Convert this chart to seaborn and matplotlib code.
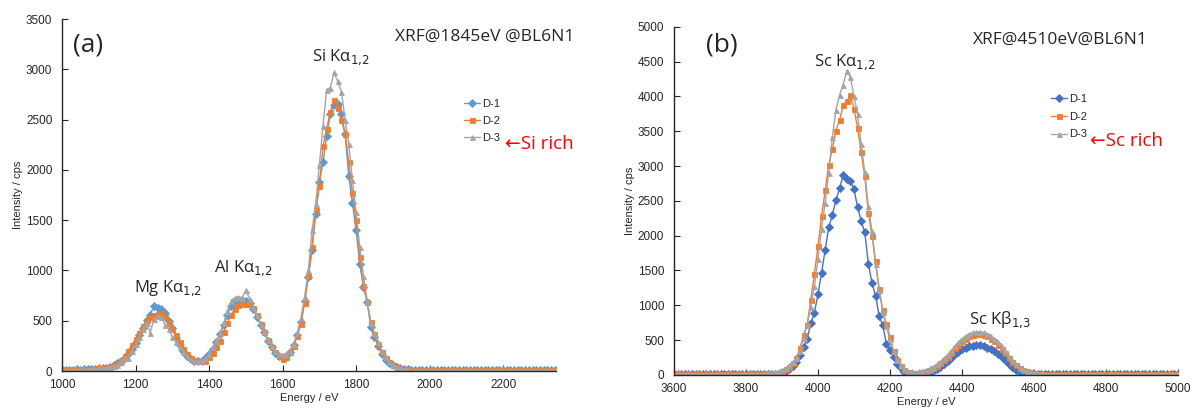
import numpy as np
import pandas as pd

import matplotlib
matplotlib.use('Agg')
import matplotlib.pyplot as plt
import seaborn as sns

# --- panel (a): XRF @ 1845 eV, 10 eV steps from 1000 to 2340 eV
energy_a = np.arange(1000, 2341, 10)
d1_a = [10, 12, 12, 14, 15, 14, 16, 18, 20, 22,
        25, 28, 32, 40, 55, 75, 100, 130, 170, 220,
        280, 360, 430, 510, 560, 650, 630, 620, 580, 500,
        430, 330, 260, 200, 150, 120, 100, 95, 100, 130,
        170, 220, 290, 370, 460, 560, 650, 700, 710, 705,
        700, 680, 620, 540, 460, 390, 300, 240, 180, 150,
        140, 150, 190, 260, 360, 490, 700, 940, 1200, 1560,
        1880, 2080, 2340, 2560, 2650, 2660, 2560, 2360, 1940, 1670,
        1400, 1060, 840, 690, 440, 340, 250, 170, 110, 80,
        55, 40, 28, 20, 15, 12, 10, 10, 10, 10,
        10, 9, 10, 10, 11, 10, 9, 10, 10, 11,
        10, 10, 9, 10, 10, 10, 11, 10, 9, 10,
        10, 10, 11, 10, 9, 10, 10, 10, 11, 10,
        9, 10, 10, 10, 10]
d2_a = [15, 15, 14, 15, 16, 18, 17, 20, 22, 25,
        28, 32, 38, 45, 60, 80, 110, 150, 200, 260,
        320, 380, 450, 510, 540, 560, 570, 575, 540, 480,
        420, 360, 290, 220, 170, 130, 110, 100, 95, 100,
        140, 180, 240, 300, 390, 480, 560, 620, 660, 670,
        670, 665, 630, 560, 470, 390, 310, 240, 190, 150,
        120, 140, 190, 250, 350, 470, 680, 950, 1230, 1600,
        1840, 2240, 2410, 2580, 2700, 2620, 2500, 2360, 2080, 1770,
        1500, 1130, 850, 690, 490, 370, 270, 190, 130, 90,
        60, 40, 30, 20, 15, 12, 12, 12, 12, 12,
        12, 11, 12, 12, 13, 12, 11, 12, 12, 13,
        12, 12, 11, 12, 12, 12, 13, 12, 11, 12,
        12, 12, 13, 12, 11, 12, 12, 12, 13, 12,
        11, 12, 12, 12, 12]
d3_a = [10, 10, 12, 12, 14, 15, 16, 18, 20, 22,
        25, 28, 32, 38, 45, 60, 90, 130, 130, 200,
        270, 340, 420, 480, 380, 520, 550, 540, 460, 420,
        340, 290, 240, 190, 150, 120, 100, 95, 100, 125,
        170, 240, 300, 380, 480, 600, 700, 730, 740, 730,
        805, 720, 640, 560, 470, 400, 310, 250, 200, 170,
        160, 170, 200, 270, 380, 530, 740, 1000, 1400, 1660,
        2050, 2440, 2800, 2820, 2970, 2880, 2780, 2500, 2260, 1900,
        1580, 1230, 950, 700, 480, 380, 290, 200, 140, 90,
        60, 40, 30, 22, 16, 12, 10, 10, 10, 10,
        10, 10, 9, 10, 10, 11, 10, 10, 9, 10,
        10, 11, 10, 10, 9, 10, 10, 10, 11, 10,
        10, 9, 10, 10, 10, 11, 10, 10, 9, 10,
        10, 10, 11, 10, 10]

# --- panel (b): XRF @ 4510 eV, 10 eV steps from 3600 to 5000 eV
energy_b = np.arange(3600, 5001, 10)
d1_b = [15, 14, 16, 15, 13, 15, 16, 14, 15, 14,
        15, 16, 14, 13, 15, 14, 15, 16, 14, 15,
        14, 15, 16, 15, 14, 16, 15, 17, 18, 20,
        30, 55, 90, 130, 190, 290, 400, 520, 740, 890,
        1160, 1470, 1790, 2120, 2300, 2510, 2680, 2870, 2820, 2780,
        2670, 2410, 2210, 2050, 1600, 1320, 1140, 850, 710, 450,
        360, 260, 160, 100, 40, 20, 10, 5, 5, 10,
        20, 40, 60, 90, 120, 160, 200, 250, 300, 330,
        370, 390, 410, 420, 430, 430, 410, 390, 370, 340,
        300, 260, 210, 150, 110, 70, 45, 30, 20, 15,
        12, 11, 10, 10, 10, 9, 10, 10, 9, 10,
        10, 9, 10, 10, 9, 10, 10, 9, 10, 10,
        9, 10, 10, 9, 10, 10, 9, 10, 10, 9,
        10, 10, 9, 10, 10, 9, 10, 10, 9, 10,
        10]
d2_b = [20, 22, 18, 20, 21, 19, 22, 20, 18, 21,
        20, 19, 22, 20, 18, 21, 20, 19, 22, 20,
        20, 21, 19, 22, 20, 21, 23, 24, 26, 30,
        50, 80, 120, 170, 240, 380, 580, 720, 1080, 1450,
        1850, 2280, 2650, 3020, 3240, 3510, 3660, 3870, 3930, 4020,
        3820, 3550, 3200, 2850, 2330, 2000, 1640, 1235, 930, 730,
        550, 340, 215, 130, 70, 45, 30, 25, 30, 40,
        55, 75, 100, 130, 170, 210, 260, 320, 380, 430,
        480, 520, 560, 580, 590, 590, 580, 560, 520, 480,
        430, 370, 310, 250, 190, 140, 100, 70, 50, 35,
        25, 20, 18, 16, 15, 15, 14, 15, 15, 14,
        15, 14, 15, 15, 14, 15, 15, 14, 15, 15,
        14, 15, 15, 14, 15, 15, 14, 15, 15, 14,
        15, 15, 14, 15, 15, 14, 15, 15, 14, 15,
        15]
d3_b = [18, 17, 19, 18, 16, 18, 19, 17, 18, 17,
        18, 19, 17, 16, 18, 17, 18, 19, 17, 18,
        17, 18, 19, 18, 20, 22, 24, 28, 35, 45,
        70, 100, 140, 190, 240, 350, 530, 720, 980, 1270,
        1670, 2100, 2470, 2900, 3420, 3810, 4020, 4170, 4370, 4280,
        4000, 3750, 3320, 2910, 2420, 2060, 1590, 1220, 900, 700,
        510, 340, 220, 140, 90, 60, 50, 45, 50, 60,
        75, 95, 120, 150, 190, 240, 290, 350, 410, 470,
        520, 560, 590, 610, 620, 620, 610, 590, 560, 520,
        470, 410, 340, 270, 210, 160, 110, 80, 55, 40,
        30, 25, 22, 20, 19, 18, 18, 17, 18, 18,
        18, 17, 18, 18, 17, 18, 18, 17, 18, 18,
        17, 18, 18, 17, 18, 18, 17, 18, 18, 17,
        18, 18, 17, 18, 18, 17, 18, 18, 17, 18,
        18]

labels = ['D-1', 'D-2', 'D-3']
markers = ['D', 's', '^']
colors_a = ['#5B9BD5', '#ED7D31', '#A5A5A5']
colors_b = ['#4472C4', '#ED7D31', '#A5A5A5']

sns.set_style('ticks')
plt.rcParams['font.family'] = ['Liberation Sans', 'DejaVu Sans']
ann_font = ['Open Sans', 'DejaVu Sans']

fig = plt.figure(figsize=(11.94, 4.12), dpi=100)
ax_a = fig.add_axes([0.052, 0.0995, 0.414, 0.854])
ax_b = fig.add_axes([0.5645, 0.09, 0.422, 0.845])


def draw_panel(ax, energy, series, colors):
    for ys, lab, mk, col in zip(series, labels, markers, colors):
        df = pd.DataFrame({'energy': energy, 'intensity': ys})
        sns.lineplot(data=df, x='energy', y='intensity', ax=ax, color=col,
                     marker=mk, markersize=3.6, markeredgewidth=0.6,
                     markeredgecolor=col, linewidth=1.0, label=lab)
    sns.despine(ax=ax)
    ax.set_xlabel('Energy / eV', fontsize=8, labelpad=1)
    ax.set_ylabel('Intensity / cps', fontsize=8, labelpad=2)
    ax.tick_params(axis='both', labelsize=8.5, length=4, width=0.8,
                   direction='in')
    ax.tick_params(axis='x', pad=6)
    ax.tick_params(axis='y', pad=7)
    ax.spines['left'].set_linewidth(1.0)
    ax.spines['bottom'].set_linewidth(1.0)


def peak_label(x, y, base, sub):
    fig.text(x / 1194, 1 - y / 412, base + '$_{' + sub + '}$', fontsize=12,
             family=ann_font, ha='center', va='center')


draw_panel(ax_a, energy_a, [d1_a, d2_a, d3_a], colors_a)
ax_a.set_xlim(1000, 2345)
ax_a.set_ylim(0, 3500)
ax_a.set_xticks(range(1000, 2201, 200))
ax_a.set_yticks(range(0, 3501, 500))
ax_a.legend(loc='upper left', bbox_to_anchor=(0.805, 0.785), frameon=False,
            fontsize=8, handlelength=1.4, handletextpad=0.2, labelspacing=0.6,
            borderaxespad=0)

draw_panel(ax_b, energy_b, [d1_b, d2_b, d3_b], colors_b)
ax_b.set_xlim(3600, 5000)
ax_b.set_ylim(0, 5000)
ax_b.set_xticks(range(3600, 5001, 200))
ax_b.set_yticks(range(0, 5001, 500))
ax_b.legend(loc='upper left', bbox_to_anchor=(0.74, 0.82), frameon=False,
            fontsize=8, handlelength=1.4, handletextpad=0.2, labelspacing=0.7,
            borderaxespad=0)

# panel (a) annotations
fig.text(88 / 1194, 1 - 45 / 412, '(a)', fontsize=19, family=ann_font,
         ha='center', va='center')
fig.text(485 / 1194, 1 - 37 / 412, 'XRF@1845eV @BL6N1', fontsize=12.5,
         family=ann_font, ha='center', va='center')
peak_label(341, 57, 'Si K\u03b1', '1{,}2')
peak_label(243, 268, 'Al K\u03b1', '1{,}2')
peak_label(168, 288, 'Mg K\u03b1', '1{,}2')
fig.text(505 / 1194, 1 - 144 / 412, '\u2190Si rich', fontsize=13.5,
         family=ann_font, color='red', ha='left', va='center')

# panel (b) annotations
fig.text(722 / 1194, 1 - 45 / 412, '(b)', fontsize=19, family=ann_font,
         ha='center', va='center')
fig.text(1060 / 1194, 1 - 40 / 412, 'XRF@4510eV@BL6N1', fontsize=12.5,
         family=ann_font, ha='center', va='center')
peak_label(845, 62, 'Sc K\u03b1', '1{,}2')
peak_label(1000, 320, 'Sc K\u03b2', '1{,}3')
fig.text(1090 / 1194, 1 - 141 / 412, '\u2190Sc rich', fontsize=13.5,
         family=ann_font, color='red', ha='left', va='center')

fig.savefig('out.png', dpi=100)
